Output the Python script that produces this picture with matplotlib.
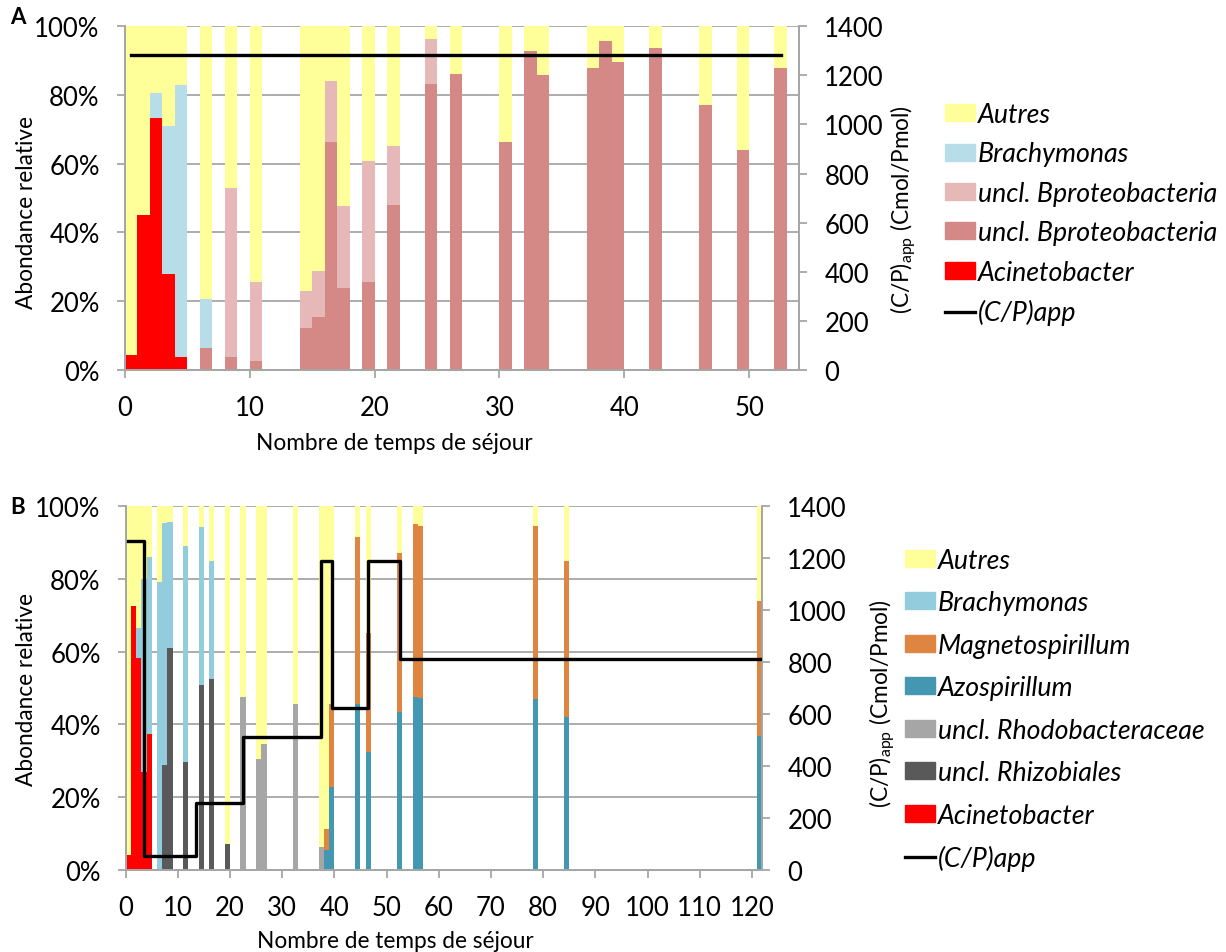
import numpy as np
import matplotlib
matplotlib.use('Agg')
import matplotlib.pyplot as plt
from matplotlib.patches import Patch
from matplotlib.lines import Line2D

plt.rcParams['font.family'] = ['Lato', 'DejaVu Sans']
plt.rcParams['mathtext.fontset'] = 'custom'
plt.rcParams['mathtext.rm'] = 'Lato'

# ---- panel A data (bar centres in residence times, % values) ----
pos_a = [0.5, 1.5, 2.5, 3.5, 4.5, 6.5, 8.5, 10.5, 14.5, 15.5, 16.5, 17.5, 19.5,
         21.5, 24.5, 26.5, 30.5, 32.5, 33.5, 37.5, 38.5, 39.5, 42.5, 46.5, 49.5, 52.5]
acineto_a = [4.3, 45.0, 73.2, 27.9, 3.7, 0, 0, 0, 0, 0, 0, 0, 0,
             0, 0, 0, 0, 0, 0, 0, 0, 0, 0, 0, 0, 0]
bproteo_dark_a = [0, 0, 0, 0, 0, 6.4, 3.7, 2.4, 12.2, 15.3, 66.3, 23.9, 25.6,
                  48.1, 83.2, 86.2, 66.4, 92.8, 85.9, 87.9, 95.8, 89.7, 93.8, 77.0, 64.0, 87.8]
bproteo_light_a = [0, 0, 0, 0, 0, 0, 49.1, 23.2, 10.7, 13.4, 17.9, 23.8, 35.3,
                   17.0, 13.1, 0, 0, 0, 0, 0, 0, 0, 0, 0, 0, 0]
brachy_a = [0, 0, 7.4, 43.1, 79.2, 14.2, 0, 0, 0, 0, 0, 0, 0,
            0, 0, 0, 0, 0, 0, 0, 0, 0, 0, 0, 0, 0]
cp_a_x = [0.5, 52.5]
cp_a_y = [1283, 1283]

# ---- panel B data ----
pos_b = [0.5, 1.5, 2.5, 3.5, 4.5, 6.5, 7.5, 8.5, 11.5, 14.5, 16.5, 19.5, 22.5,
         25.5, 26.5, 32.5, 37.5, 38.5, 39.5, 44.5, 46.5, 52.5, 55.5, 56.5, 78.5, 84.5, 121.5]
acineto_b = [4.2, 72.5, 58.3, 27.1, 37.4, 0, 0, 0, 0, 0, 0, 0, 0,
             0, 0, 0, 0, 0, 0, 0, 0, 0, 0, 0, 0, 0, 0]
rhizo_b = [0, 0, 0, 0, 0, 0, 28.9, 61.0, 29.7, 50.8, 52.4, 7.2, 0,
           0, 0, 0, 0, 0, 0, 0, 0, 0, 0, 0, 0, 0, 0]
rhodo_b = [0, 0, 0, 0, 0, 0, 0, 0, 0, 0, 0, 0, 47.5,
           30.4, 34.6, 45.7, 6.5, 0, 0, 0, 0, 0, 0, 0, 0, 0, 0]
azo_b = [0, 0, 0, 0, 0, 0, 0, 0, 0, 0, 0, 0, 0,
         0, 0, 0, 0, 5.7, 22.8, 45.6, 32.4, 43.3, 47.4, 47.2, 47.1, 42.1, 36.8]
magneto_b = [0, 0, 0, 0, 0, 0, 0, 0, 0, 0, 0, 0, 0,
             0, 0, 0, 0, 5.6, 22.8, 45.8, 32.7, 43.6, 47.7, 47.2, 47.3, 42.6, 37.1]
brachy_b = [0, 0, 8.2, 52.7, 48.5, 79.0, 66.3, 34.6, 59.2, 43.3, 32.4, 0, 0,
            0, 0, 0, 0, 0, 0, 0, 0, 0, 0, 0, 0, 0, 0]
cp_b_x = [0.5, 3.5, 13.5, 22.5, 37.5, 39.5, 46.5, 52.5, 121.5]
cp_b_y = [1265, 55, 257, 511, 1186, 623, 1186, 811, 811]

YELLOW = '#FFFF99'
GRID = '#A6A6A6'
TICK_FS = 18.5
LAB_FS = 16.3
LEG_FS = 19.3


def stack(ax, pos, series, colors):
    bottom = np.zeros(len(pos))
    for vals, col in zip(series, colors):
        v = np.array(vals, dtype=float)
        ax.bar(pos, v, width=1.0, bottom=bottom, color=col, linewidth=0, zorder=2)
        bottom += v
    ax.bar(pos, 100 - bottom, width=1.0, bottom=bottom, color=YELLOW, linewidth=0, zorder=2)


def style(ax, ax2, xmax, xticks, xlab_xy, ylab_xy, y2lab_xy):
    ax.set_xlim(0, xmax)
    ax.set_ylim(0, 100)
    ax.set_yticks(range(0, 101, 20))
    ax.set_yticklabels([f'{v}%' for v in range(0, 101, 20)])
    ax.set_xticks(xticks)
    ax.yaxis.grid(True, color=GRID, lw=1.3, zorder=0)
    ax.set_axisbelow(True)
    for a in (ax, ax2):
        a.spines['top'].set_visible(False)
        for s in ('left', 'bottom', 'right'):
            a.spines[s].set_color(GRID)
            a.spines[s].set_linewidth(1.3)
        a.tick_params(colors=GRID, labelcolor='black', labelsize=TICK_FS,
                      length=6, width=1.3, pad=12)
    ax.set_ylabel('Abondance relative', fontsize=LAB_FS)
    ax.yaxis.set_label_coords(*ylab_xy)
    ax.set_xlabel('Nombre de temps de séjour', fontsize=LAB_FS)
    ax.xaxis.set_label_coords(*xlab_xy)
    ax2.set_ylim(0, 1400)
    ax2.set_yticks(range(0, 1401, 200))
    ax2.set_ylabel(r'(C/P)$_{\mathrm{app}}$ (Cmol/Pmol)', fontsize=LAB_FS)
    ax2.yaxis.set_label_coords(*y2lab_xy)


def add_legend(handles, labels, left_px, top_px, spacing):
    fig.legend(handles, labels, loc='upper left',
               bbox_to_anchor=(left_px / 1226, 1 - top_px / 953), frameon=False,
               prop={'style': 'italic', 'size': LEG_FS}, handlelength=1.12,
               handleheight=0.6, handletextpad=0.11, labelspacing=spacing,
               borderpad=0, borderaxespad=0)


fig = plt.figure(figsize=(12.26, 9.53), dpi=100)

# ---- panel A ----
axA = fig.add_axes([0.1017, 0.611, 0.5503, 0.3603])
stack(axA, pos_a, [acineto_a, bproteo_dark_a, bproteo_light_a, brachy_a],
      ['#FF0000', '#D48987', '#E6B8B7', '#B7DEE8'])
axA2 = axA.twinx()
axA2.plot(cp_a_x, cp_a_y, color='black', lw=2.4, zorder=5)
style(axA, axA2, 54, range(0, 51, 10), (0.40, -0.18), (-0.13, 0.46), (1.133, 0.47))

hA = [Patch(color=YELLOW), Patch(color='#B7DEE8'), Patch(color='#E6B8B7'),
      Patch(color='#D48987'), Patch(color='#FF0000'), Line2D([], [], color='black', lw=2.4)]
lA = ['Autres', 'Brachymonas', 'uncl. Bproteobacteria', 'uncl. Bproteobacteria',
      'Acinetobacter', '(C/P)app']
add_legend(hA, lA, 945, 103, 0.54)

# ---- panel B ----
axB = fig.add_axes([0.1025, 0.0857, 0.5193, 0.3826])
stack(axB, pos_b, [acineto_b, rhizo_b, rhodo_b, azo_b, magneto_b, brachy_b],
      ['#FF0000', '#595959', '#A6A6A6', '#4397B0', '#DE8542', '#93CDDD'])
axB2 = axB.twinx()
axB2.plot(cp_b_x, cp_b_y, color='black', lw=2.4, drawstyle='steps-post', zorder=5)
style(axB, axB2, 122, range(0, 121, 10), (0.423, -0.165), (-0.139, 0.5), (1.166, 0.46))

hB = [Patch(color=YELLOW), Patch(color='#93CDDD'), Patch(color='#DE8542'),
      Patch(color='#4397B0'), Patch(color='#A6A6A6'), Patch(color='#595959'),
      Patch(color='#FF0000'), Line2D([], [], color='black', lw=2.4)]
lB = ['Autres', 'Brachymonas', 'Magnetospirillum', 'Azospirillum',
      'uncl. Rhodobacteraceae', 'uncl. Rhizobiales', 'Acinetobacter', '(C/P)app']
add_legend(hB, lB, 905, 549, 0.65)

fig.text(10 / 1226, 1 - 18 / 953, 'A', fontsize=16, fontweight='bold', va='center')
fig.text(10 / 1226, 1 - 507 / 953, 'B', fontsize=16, fontweight='bold', va='center')

fig.savefig('out.png', dpi=100)
